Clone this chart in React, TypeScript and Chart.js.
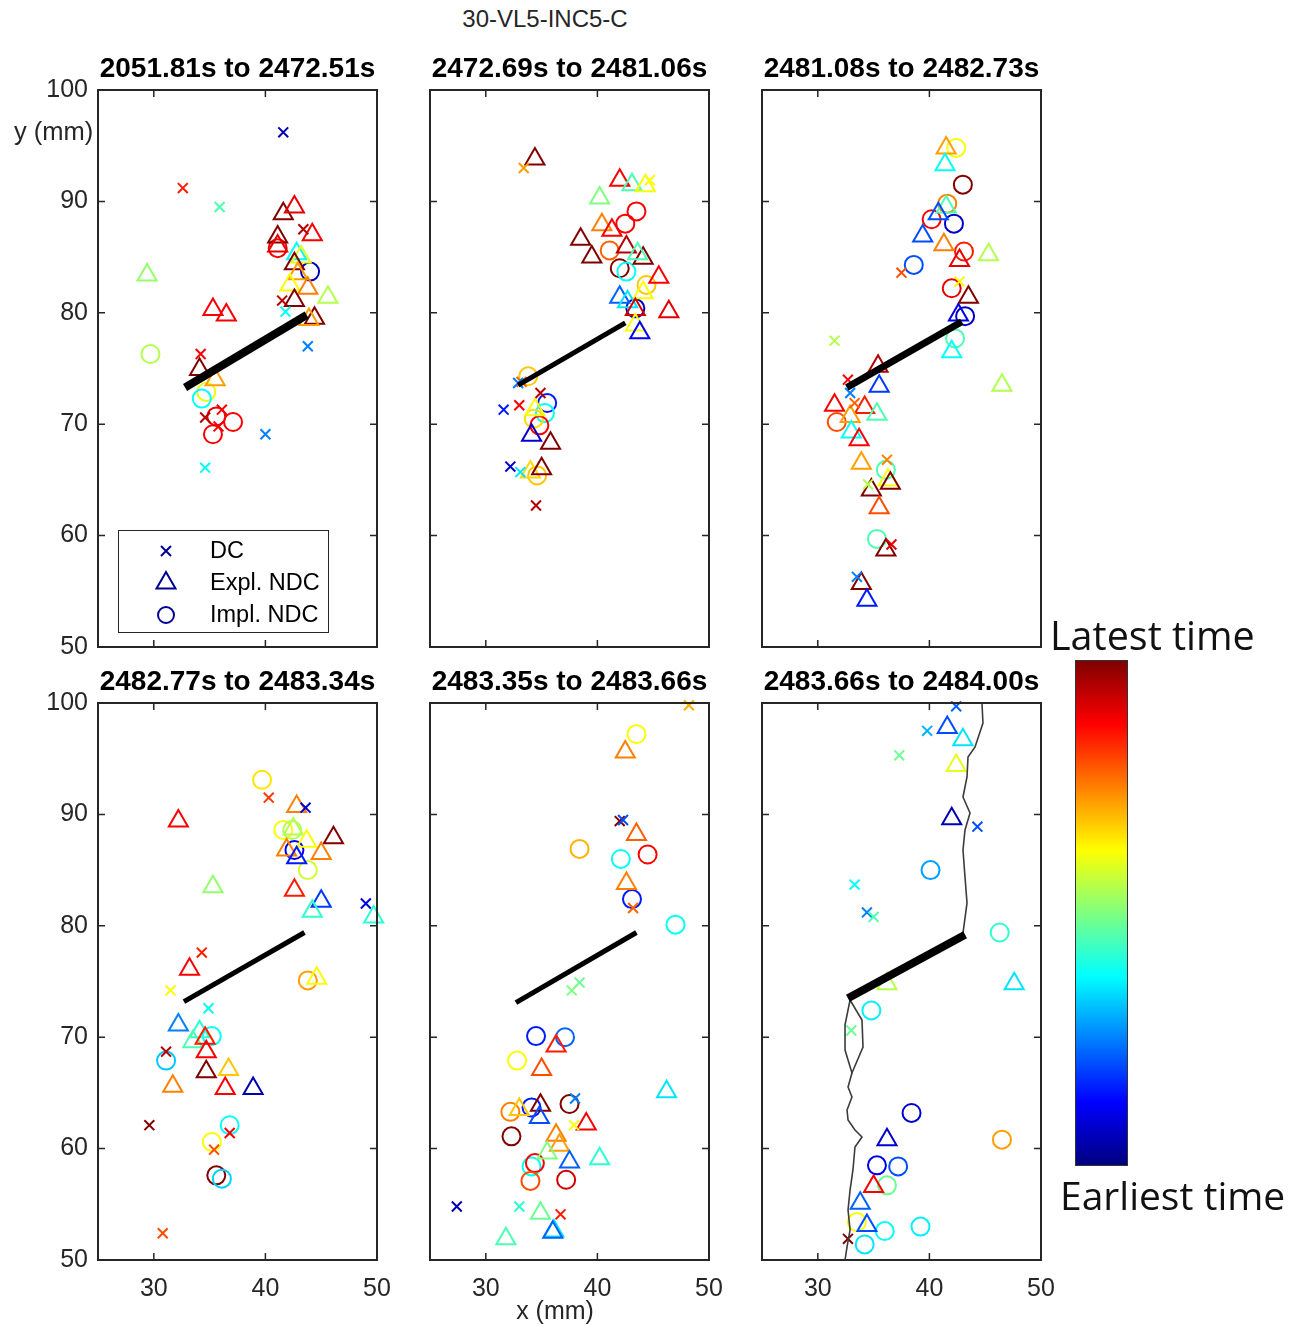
import React, { useEffect, useRef } from 'react';
import { Chart, registerables } from 'chart.js';
Chart.register(...registerables);

type P = [number, number, number]; // x (mm), y (mm), relative time 0..1
type XY = [number, number];

const figureTitle = '30-VL5-INC5-C';
const panelTitles = [
  '2051.81s to 2472.51s',
  '2472.69s to 2481.06s',
  '2481.08s to 2482.73s',
  '2482.77s to 2483.34s',
  '2483.35s to 2483.66s',
  '2483.66s to 2484.00s',
];
const xTicks = [30, 40, 50];
const yTicks = [50, 60, 70, 80, 90, 100];
const legendLabels = ['DC', 'Expl. NDC', 'Impl. NDC'];

// ---------- Panel 1 ----------
const p1DC: P[] = [
  [41.6, 96.2, 0.05], [32.6, 91.2, 0.85], [35.9, 89.5, 0.45], [43.4, 87.5, 0.95], [41.5, 81.1, 0.95],
  [41.8, 80.1, 0.38], [43.8, 77.0, 0.25], [34.2, 76.3, 0.88], [34.6, 70.6, 0.95], [36.1, 71.3, 0.88],
  [35.8, 69.8, 0.88], [40.0, 69.1, 0.25], [34.6, 66.1, 0.38],
];
const p1Expl: P[] = [
  [41.6, 88.9, 1.0], [42.6, 89.5, 0.9], [44.2, 87.0, 0.88], [41.1, 86.8, 1.0], [41.1, 86.0, 0.9],
  [42.8, 85.3, 0.38], [43.2, 85.0, 0.6], [42.6, 84.4, 1.0], [42.9, 83.5, 0.72], [42.2, 82.5, 0.62],
  [43.8, 82.2, 0.75], [45.6, 81.4, 0.55], [42.6, 81.1, 1.0], [29.4, 83.4, 0.52], [35.3, 80.3, 0.88],
  [36.5, 79.8, 0.88], [44.4, 79.5, 1.0], [43.9, 79.4, 0.72], [34.1, 74.9, 1.0], [35.5, 74.0, 0.72],
];
const p1Impl: P[] = [
  [41.1, 85.8, 0.88], [44.0, 83.7, 0.05], [29.7, 76.3, 0.55], [34.7, 72.9, 0.6], [34.3, 72.3, 0.38],
  [35.6, 70.7, 0.9], [37.1, 70.2, 0.88], [35.3, 69.1, 0.88],
];

// ---------- Panel 2 ----------
const p2DC: P[] = [
  [33.4, 93.0, 0.72], [44.7, 91.9, 0.62], [33.2, 73.8, 0.78], [32.9, 73.7, 0.25], [34.9, 72.8, 0.95],
  [33.0, 71.7, 0.88], [31.6, 71.3, 0.15], [32.2, 66.2, 0.08], [33.1, 65.7, 0.35], [34.5, 62.7, 0.95],
];
const p2Expl: P[] = [
  [34.4, 93.8, 1.0], [42.0, 91.9, 0.88], [43.1, 91.5, 0.45], [44.3, 91.4, 0.62], [40.2, 90.3, 0.5],
  [40.4, 87.9, 0.75], [41.3, 87.4, 0.88], [38.5, 86.6, 1.0], [42.6, 85.9, 0.95], [39.5, 85.0, 1.0],
  [44.1, 84.9, 1.0], [43.6, 85.3, 0.45], [45.5, 83.2, 0.88], [44.1, 81.8, 0.62], [42.0, 81.4, 0.22],
  [42.7, 81.0, 0.35], [43.4, 80.3, 0.92], [46.4, 80.1, 0.9], [43.4, 78.9, 0.62], [43.8, 78.2, 0.12],
  [34.4, 71.3, 0.62], [34.1, 69.0, 0.08], [35.8, 68.3, 1.0], [34.0, 65.7, 0.66], [35.0, 66.0, 1.0],
];
const p2Impl: P[] = [
  [43.5, 89.1, 0.88], [42.5, 88.0, 0.88], [41.1, 85.6, 0.78], [42.0, 84.0, 1.0], [42.6, 83.7, 0.38],
  [44.4, 82.5, 0.68], [43.4, 80.4, 0.05], [33.8, 74.3, 0.68], [35.5, 71.9, 0.15], [35.3, 71.0, 0.38],
  [34.3, 70.5, 0.66], [34.8, 69.9, 0.88], [34.6, 65.4, 0.68],
];

// ---------- Panel 3 ----------
const p3DC: P[] = [
  [37.5, 83.6, 0.8], [42.7, 82.8, 0.62], [31.5, 77.5, 0.55], [32.7, 74.0, 0.88], [32.9, 72.8, 0.25],
  [33.3, 71.9, 0.78], [36.2, 66.8, 0.75], [34.5, 64.6, 0.55], [36.6, 59.2, 0.9], [33.5, 56.3, 0.25],
];
const p3Expl: P[] = [
  [41.5, 94.8, 0.72], [41.4, 93.3, 0.38], [41.5, 89.5, 0.45], [40.8, 88.9, 0.2], [39.4, 86.9, 0.2],
  [41.3, 86.1, 0.75], [42.7, 84.7, 0.9], [45.3, 85.2, 0.55], [43.5, 81.4, 1.0], [42.6, 79.8, 0.1],
  [42.0, 76.5, 0.38], [46.5, 73.5, 0.55], [35.5, 73.4, 0.18], [35.4, 75.2, 0.95], [31.5, 71.7, 0.88],
  [34.2, 71.5, 0.85], [35.3, 70.9, 0.45], [32.9, 70.7, 0.72], [33.0, 69.3, 0.38], [33.7, 68.6, 0.88],
  [33.9, 66.5, 0.72], [36.3, 65.0, 0.62], [36.5, 64.7, 1.0], [34.8, 64.1, 1.0], [35.5, 62.5, 0.8],
  [36.1, 58.7, 1.0], [33.9, 55.7, 1.0], [34.4, 54.2, 0.15],
];
const p3Impl: P[] = [
  [42.4, 94.8, 0.62], [43.0, 91.5, 1.0], [41.6, 89.8, 0.75], [40.2, 88.4, 0.88], [42.2, 88.0, 0.07],
  [43.1, 85.5, 0.85], [38.6, 84.3, 0.2], [42.0, 82.2, 0.9], [43.2, 79.7, 0.07], [42.3, 77.7, 0.45],
  [31.7, 70.2, 0.8], [36.1, 65.9, 0.45], [35.3, 59.7, 0.45],
];

// ---------- Panel 4 ----------
const p4DC: P[] = [
  [40.3, 91.5, 0.82], [43.6, 90.6, 0.08], [49.0, 82.0, 0.1], [34.3, 77.6, 0.85], [31.5, 74.2, 0.62],
  [34.9, 72.6, 0.38], [31.1, 68.7, 0.95], [29.6, 62.1, 1.0], [36.8, 61.4, 0.88], [35.4, 59.9, 0.8],
  [30.8, 52.4, 0.8],
];
const p4Expl: P[] = [
  [42.8, 90.7, 0.75], [32.2, 89.4, 0.88], [42.5, 88.7, 0.55], [43.7, 87.6, 0.62], [46.1, 87.9, 1.0],
  [41.9, 86.8, 0.75], [42.8, 86.1, 0.15], [45.0, 86.5, 0.75], [35.3, 83.5, 0.52], [42.6, 83.2, 0.85],
  [45.0, 82.2, 0.18], [44.2, 81.3, 0.42], [49.7, 80.8, 0.42], [33.2, 76.1, 0.88], [44.6, 75.3, 0.62],
  [32.2, 71.1, 0.25], [34.1, 70.5, 0.42], [33.5, 69.6, 0.45], [34.6, 69.9, 0.85], [34.7, 68.7, 0.88],
  [36.7, 67.1, 0.68], [34.7, 66.9, 1.0], [31.7, 65.6, 0.75], [36.4, 65.4, 0.88], [38.9, 65.4, 0.05],
];
const p4Impl: P[] = [
  [39.7, 93.1, 0.65], [41.6, 88.6, 0.62], [42.4, 88.6, 0.55], [42.6, 86.8, 0.1], [43.8, 85.0, 0.58],
  [43.8, 75.1, 0.72], [35.2, 70.1, 0.38], [31.1, 67.9, 0.32], [36.8, 62.1, 0.38], [35.2, 60.6, 0.62],
  [35.6, 57.6, 1.0], [36.1, 57.3, 0.33],
];

// ---------- Panel 5 ----------
const p5DC: P[] = [
  [48.2, 99.8, 0.7], [42.0, 89.4, 1.0], [42.3, 89.5, 0.2], [43.2, 81.6, 0.78], [38.4, 74.9, 0.48],
  [37.7, 74.2, 0.5], [38.0, 64.5, 0.25], [37.9, 62.1, 0.62], [27.4, 54.8, 0.05], [33.0, 54.8, 0.42],
  [36.7, 54.1, 0.85],
];
const p5Expl: P[] = [
  [42.5, 95.6, 0.75], [43.5, 88.2, 0.78], [42.6, 83.8, 0.75], [36.3, 69.2, 0.85], [35.0, 67.1, 0.8],
  [46.2, 65.1, 0.35], [34.9, 63.9, 1.0], [34.8, 62.8, 0.2], [33.0, 63.5, 0.68], [39.0, 62.2, 0.88],
  [36.3, 61.2, 0.75], [36.6, 60.3, 0.72], [35.5, 59.6, 0.5], [37.5, 58.8, 0.22], [40.2, 59.1, 0.42],
  [34.9, 54.2, 0.48], [36.1, 52.6, 0.35], [36.0, 52.5, 0.22], [31.8, 51.9, 0.45],
];
const p5Impl: P[] = [
  [43.5, 97.2, 0.62], [38.4, 86.9, 0.7], [44.5, 86.4, 0.88], [42.1, 86.0, 0.38], [43.1, 82.4, 0.15],
  [47.0, 80.1, 0.38], [34.5, 70.1, 0.15], [37.1, 70.0, 0.22], [32.8, 67.9, 0.62], [37.5, 64.0, 1.0],
  [34.1, 63.7, 0.15], [32.2, 63.3, 0.75], [32.3, 61.1, 1.0], [34.1, 58.4, 0.38], [34.4, 58.7, 0.88],
  [34.0, 57.1, 0.8], [37.2, 57.2, 0.92],
];

// ---------- Panel 6 ----------
const p6DC: P[] = [
  [42.4, 99.7, 0.22], [39.8, 97.5, 0.3], [37.3, 95.3, 0.48], [44.3, 88.9, 0.2], [33.3, 83.7, 0.38],
  [34.4, 81.2, 0.25], [35.0, 80.8, 0.45], [33.0, 70.6, 0.48], [32.7, 51.9, 1.0],
];
const p6Expl: P[] = [
  [41.6, 97.8, 0.2], [43.0, 96.7, 0.35], [42.4, 94.4, 0.6], [42.0, 89.6, 0.05], [47.6, 74.8, 0.35],
  [36.2, 74.8, 0.55], [36.2, 60.8, 0.08], [35.0, 56.6, 0.88], [33.8, 55.1, 0.22], [34.4, 53.1, 0.2],
];
const p6Impl: P[] = [
  [40.1, 85.0, 0.28], [46.3, 79.4, 0.42], [34.8, 72.4, 0.36], [38.4, 63.2, 0.08], [46.5, 60.8, 0.72],
  [35.3, 58.5, 0.1], [37.2, 58.4, 0.2], [36.2, 56.7, 0.48], [33.5, 53.4, 0.62], [36.0, 52.6, 0.38],
  [39.2, 53.0, 0.36], [34.2, 51.4, 0.35],
];

// Initial notch line in each panel
const notch1: XY[] = [[32.8, 73.3], [43.7, 79.8]];
const notch2: XY[] = [[32.9, 73.5], [42.5, 79.1]];
const notch3: XY[] = [[32.6, 73.3], [42.9, 79.2]];
const notch4: XY[] = [[32.7, 73.2], [43.5, 79.4]];
const notch5: XY[] = [[32.7, 73.1], [43.5, 79.4]];
const notch6: XY[] = [[32.7, 73.5], [43.2, 79.2]];

// Crack traces in the last panel
const crackUpper: XY[] = [
  [44.71, 100.0], [44.8, 98.2], [44.09, 96.05], [43.46, 95.15], [43.37, 93.36], [43.01, 91.56],
  [43.64, 90.13], [43.19, 88.6], [43.01, 86.8], [43.19, 84.38], [43.37, 82.05], [43.01, 79.35],
];
const crackLoop: XY[] = [
  [32.89, 73.34], [33.96, 71.54], [34.05, 69.12], [33.06, 66.79], [32.44, 68.85], [32.44, 71.1], [32.89, 73.34],
];
const crackTail: XY[] = [
  [33.06, 66.79], [32.71, 65.53], [33.06, 64.63], [32.62, 63.46], [32.71, 62.57], [33.33, 61.67],
  [33.96, 61.04], [33.33, 60.14], [33.15, 58.08], [32.89, 56.28], [32.71, 54.49], [32.89, 52.69],
  [32.62, 51.17], [32.44, 50.0],
];

const panelDC = [p1DC, p2DC, p3DC, p4DC, p5DC, p6DC];
const panelExpl = [p1Expl, p2Expl, p3Expl, p4Expl, p5Expl, p6Expl];
const panelImpl = [p1Impl, p2Impl, p3Impl, p4Impl, p5Impl, p6Impl];
const panelNotch = [notch1, notch2, notch3, notch4, notch5, notch6];

// ---------- layout / style ----------
const COLS = [98, 430, 762];
const ROWS = [90, 703];
const PW = 279;
const PH = 557;
const PAD_L = 70;
const PAD_T = 40;
const PAD_R = 20;
const PAD_B = 46;
const CW = PAD_L + PW + PAD_R;
const CH = PAD_T + PH + PAD_B;
const notchWidths = [8, 5, 7, 5, 5, 8];
const FONT = '"Liberation Sans", Arial, Helvetica, sans-serif';
const AX = '#262626';

function jet(t: number): string {
  const c = (v: number) => Math.round(255 * Math.max(0, Math.min(1, v)));
  return `rgb(${c(1.5 - Math.abs(4 * t - 3))},${c(1.5 - Math.abs(4 * t - 2))},${c(1.5 - Math.abs(4 * t - 1))})`;
}

function markers(pts: P[], style: string, r: number) {
  return {
    type: 'scatter' as const,
    data: pts.map((p) => ({ x: p[0], y: p[1] })),
    pointStyle: style,
    pointRadius: r,
    pointHoverRadius: r,
    pointBorderColor: pts.map((p) => jet(p[2])),
    pointBackgroundColor: 'rgba(0,0,0,0)',
    pointBorderWidth: 2,
    showLine: false,
    clip: false as any,
    order: 1,
  };
}

function path(pts: XY[], color: string, width: number) {
  return {
    type: 'line' as const,
    data: pts.map((p) => ({ x: p[0], y: p[1] })),
    borderColor: color,
    borderWidth: width,
    pointRadius: 0,
    showLine: true,
    tension: 0,
    fill: false,
    clip: false as any,
    order: 0,
  };
}

function Panel({ idx }: { idx: number }) {
  const ref = useRef<HTMLCanvasElement>(null);
  const row = Math.floor(idx / 3);
  const col = idx % 3;
  useEffect(() => {
    const datasets: any[] = [
      markers(panelDC[idx], 'crossRot', 7),
      markers(panelExpl[idx], 'triangle', 11),
      markers(panelImpl[idx], 'circle', 9),
      path(panelNotch[idx], '#000', notchWidths[idx]),
    ];
    if (idx === 5) {
      datasets.push(path(crackUpper, '#3c3c3c', 1.6));
      datasets.push(path(crackLoop, '#3c3c3c', 1.6));
      datasets.push(path(crackTail, '#3c3c3c', 1.6));
    }
    const frame = {
      id: 'frame',
      afterDraw(chart: any) {
        const { ctx, chartArea: a, scales } = chart;
        const sx = scales.x;
        const sy = scales.y;
        ctx.save();
        ctx.strokeStyle = AX;
        ctx.lineWidth = 2;
        ctx.strokeRect(a.left, a.top, a.right - a.left, a.bottom - a.top);
        ctx.lineWidth = 1.5;
        const tl = 7;
        ctx.beginPath();
        xTicks.forEach((v) => {
          const px = sx.getPixelForValue(v);
          if (px > a.left + 2 && px < a.right - 2) {
            ctx.moveTo(px, a.bottom); ctx.lineTo(px, a.bottom - tl);
            ctx.moveTo(px, a.top); ctx.lineTo(px, a.top + tl);
          }
        });
        yTicks.forEach((v) => {
          const py = sy.getPixelForValue(v);
          if (py > a.top + 2 && py < a.bottom - 2) {
            ctx.moveTo(a.left, py); ctx.lineTo(a.left + tl, py);
            ctx.moveTo(a.right, py); ctx.lineTo(a.right - tl, py);
          }
        });
        ctx.stroke();
        ctx.fillStyle = '#000';
        ctx.font = `bold 28px ${FONT}`;
        ctx.textAlign = 'center';
        ctx.textBaseline = 'alphabetic';
        ctx.fillText(panelTitles[idx], (a.left + a.right) / 2, a.top - 13);
        if (idx === 0) {
          const lx = a.left + 20;
          const ly = a.top + 440;
          ctx.fillStyle = '#fff';
          ctx.fillRect(lx, ly, 210, 102);
          ctx.strokeStyle = AX;
          ctx.lineWidth = 1;
          ctx.strokeRect(lx + 0.5, ly + 0.5, 210, 102);
          const navy = jet(0.02);
          ctx.strokeStyle = navy;
          ctx.lineWidth = 2;
          const mx = lx + 48;
          const rows = [ly + 21, ly + 53, ly + 85];
          ctx.beginPath();
          ctx.moveTo(mx - 5, rows[0] - 5); ctx.lineTo(mx + 5, rows[0] + 5);
          ctx.moveTo(mx + 5, rows[0] - 5); ctx.lineTo(mx - 5, rows[0] + 5);
          ctx.stroke();
          ctx.beginPath();
          ctx.moveTo(mx, rows[1] - 11); ctx.lineTo(mx + 9.5, rows[1] + 5.5); ctx.lineTo(mx - 9.5, rows[1] + 5.5); ctx.closePath();
          ctx.stroke();
          ctx.beginPath();
          ctx.arc(mx, rows[2], 8, 0, Math.PI * 2);
          ctx.stroke();
          ctx.fillStyle = '#000';
          ctx.font = `23.5px ${FONT}`;
          ctx.textAlign = 'left';
          ctx.textBaseline = 'middle';
          legendLabels.forEach((t, i) => ctx.fillText(t, lx + 92, rows[i] + 1));
        }
        ctx.restore();
      },
    };
    const tickFont = { family: FONT, size: 25 };
    const chart = new Chart(ref.current as HTMLCanvasElement, {
      type: 'scatter',
      data: { datasets },
      options: {
        responsive: false,
        animation: false,
        events: [],
        layout: { padding: { top: PAD_T, right: PAD_R, left: 0, bottom: 0 } },
        plugins: { legend: { display: false }, tooltip: { enabled: false }, title: { display: false } },
        scales: {
          x: {
            type: 'linear',
            min: 25,
            max: 50,
            afterBuildTicks: (s: any) => { s.ticks = xTicks.map((v) => ({ value: v })); },
            afterFit: (s: any) => { s.height = PAD_B; s.paddingLeft = 0; s.paddingRight = 0; },
            grid: { display: false, drawTicks: false },
            border: { display: false },
            ticks: { display: row === 1, padding: 14, font: tickFont, color: AX, maxRotation: 0, autoSkip: false },
          },
          y: {
            type: 'linear',
            min: 50,
            max: 100,
            afterBuildTicks: (s: any) => { s.ticks = yTicks.map((v) => ({ value: v })); },
            afterFit: (s: any) => { s.width = PAD_L; s.paddingTop = 0; s.paddingBottom = 0; },
            grid: { display: false, drawTicks: false },
            border: { display: false },
            ticks: { display: col === 0, padding: 10, font: tickFont, color: AX, autoSkip: false },
          },
        },
      } as any,
      plugins: [frame],
    });
    return () => chart.destroy();
  }, [idx]);
  return (
    <canvas
      ref={ref}
      width={CW}
      height={CH}
      style={{ position: 'absolute', left: COLS[col] - PAD_L, top: ROWS[row] - PAD_T, width: CW, height: CH }}
    />
  );
}

const jetGradient =
  'linear-gradient(to top, rgb(0,0,128) 0%, rgb(0,0,255) 12.5%, rgb(0,255,255) 37.5%, rgb(255,255,0) 62.5%, rgb(255,0,0) 87.5%, rgb(128,0,0) 100%)';

export default function App() {
  useEffect(() => {
    document.body.style.margin = '0';
  }, []);
  const txt = (extra: React.CSSProperties): React.CSSProperties => ({
    position: 'absolute',
    whiteSpace: 'nowrap',
    fontFamily: FONT,
    color: AX,
    ...extra,
  });
  return (
    <div style={{ position: 'relative', width: 1299, height: 1325, background: '#fff', overflow: 'hidden' }}>
      {[0, 1, 2, 3, 4, 5].map((i) => (
        <Panel key={i} idx={i} />
      ))}
      <div style={txt({ left: 545, top: 6, fontSize: 24, lineHeight: '26px', transform: 'translateX(-50%)' })}>{figureTitle}</div>
      <div style={txt({ left: 14, top: 117, fontSize: 25.5, lineHeight: '28px' })}>y (mm)</div>
      <div style={txt({ left: 555, top: 1296, fontSize: 25, lineHeight: '28px', transform: 'translateX(-50%)' })}>x (mm)</div>
      <div
        style={{
          position: 'absolute',
          left: 1075,
          top: 660,
          width: 53,
          height: 506,
          background: jetGradient,
          border: '1.5px solid #333',
          boxSizing: 'border-box',
        }}
      />
      <div style={txt({ left: 1050, top: 613, fontSize: 39.5, lineHeight: '44px', fontFamily: '"Open Sans", sans-serif', color: '#111' })}>
        Latest time
      </div>
      <div style={txt({ left: 1060, top: 1173, fontSize: 39, lineHeight: '44px', fontFamily: '"Open Sans", sans-serif', color: '#111' })}>
        Earliest time
      </div>
    </div>
  );
}
